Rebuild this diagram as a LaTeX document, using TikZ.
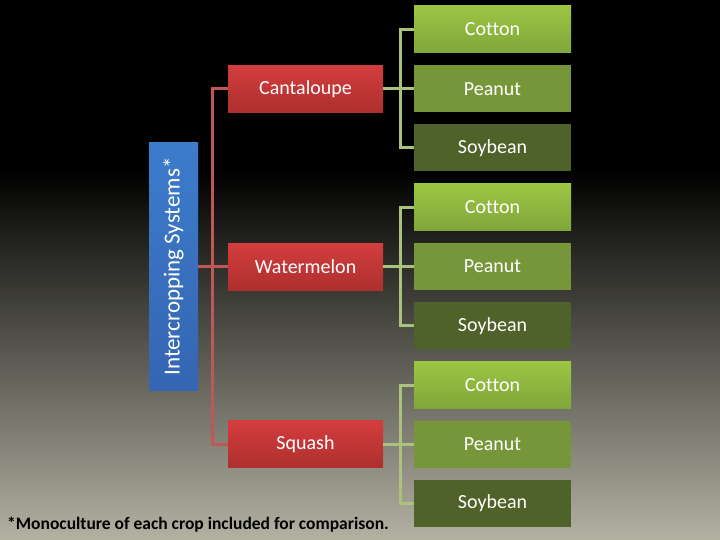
\documentclass[tikz,border=0pt]{standalone}
\usepackage{fontspec}
\setmainfont{Carlito}[Ligatures=NoCommon]
\begin{document}
\begin{tikzpicture}[x=1pt,y=-1pt,
  lbl/.style={font=\fontsize{20}{22}\selectfont, text=white, inner sep=0pt},
  redbox/.style={lbl, minimum width=155pt, minimum height=47pt, top color=rbtop, bottom color=rbbot, draw=none},
  cottonbox/.style={lbl, minimum width=157pt, minimum height=47pt, top color=ctop, bottom color=cbot},
  peanutbox/.style={lbl, minimum width=157pt, minimum height=47pt, fill=pfill},
  soybox/.style={lbl, minimum width=157pt, minimum height=47pt, fill=sfill},
  redline/.style={draw=rline, line width=3pt},
  greenline/.style={draw=gline, line width=3pt}
]
\definecolor{rbtop}{HTML}{D43D3D}
\definecolor{rbbot}{HTML}{AE2F2F}
\definecolor{ctop}{HTML}{9DC544}
\definecolor{cbot}{HTML}{7FA63A}
\definecolor{pfill}{HTML}{77963A}
\definecolor{sfill}{HTML}{4F6229}
\definecolor{rline}{HTML}{C25555}
\definecolor{gline}{HTML}{A9C27C}
\definecolor{btop}{HTML}{3C7CCB}
\definecolor{bbot}{HTML}{3565B3}
\definecolor{bgbot}{HTML}{B3B1A2}
\useasboundingbox (0,0) rectangle (720,540);
\fill[black] (0,0) rectangle (720,170);
\fill[top color=black, bottom color=bgbot] (0,170) rectangle (720,540);

\node[lbl, minimum width=49pt, minimum height=248pt, top color=btop, bottom color=bbot] (blue) at (173.5,266.5) {};
\node[lbl, rotate=90] (bluetxt) at (173.5,266.5) {\fontsize{23}{25}\selectfont Intercropping Systems*};

\node[redbox] (r1) at (305.5,88.75) {Cantaloupe};
\node[redbox] (r2) at (305.5,266.5) {Watermelon};
\node[redbox] (r3) at (305.5,444.25) {Squash};

\node[cottonbox] (g1a) at (492.5,29.5) {Cotton};
\node[peanutbox] (g1b) at (492.5,88.75) {Peanut};
\node[soybox] (g1c) at (492.5,148) {Soybean};
\node[cottonbox] (g2a) at (492.5,207.25) {Cotton};
\node[peanutbox] (g2b) at (492.5,266.5) {Peanut};
\node[soybox] (g2c) at (492.5,325.75) {Soybean};
\node[cottonbox] (g3a) at (492.5,385) {Cotton};
\node[peanutbox] (g3b) at (492.5,444.25) {Peanut};
\node[soybox] (g3c) at (492.5,503.5) {Soybean};

\coordinate (rj) at (212,266.5);
\draw[redline] (blue.east) -- (rj);
\draw[redline] (r1.west) -| (rj) |- (r3.west);
\draw[redline] (rj) -- (r2.west);

\coordinate (gj1) at (400,88.75);
\coordinate (gj2) at (400,266.5);
\coordinate (gj3) at (400,444.25);
\draw[greenline] (r1.east) -- (g1b.west);
\draw[greenline] (g1a.west) -| (gj1) |- (g1c.west);
\draw[greenline] (r2.east) -- (g2b.west);
\draw[greenline] (g2a.west) -| (gj2) |- (g2c.west);
\draw[greenline] (r3.east) -- (g3b.west);
\draw[greenline] (g3a.west) -| (gj3) |- (g3c.west);

\node[anchor=west, inner sep=0pt, font=\bfseries\fontsize{17.5}{19}\selectfont, text=black] (foot) at (7,525) {*Monoculture of each crop included for comparison.};
\end{tikzpicture}
\end{document}
